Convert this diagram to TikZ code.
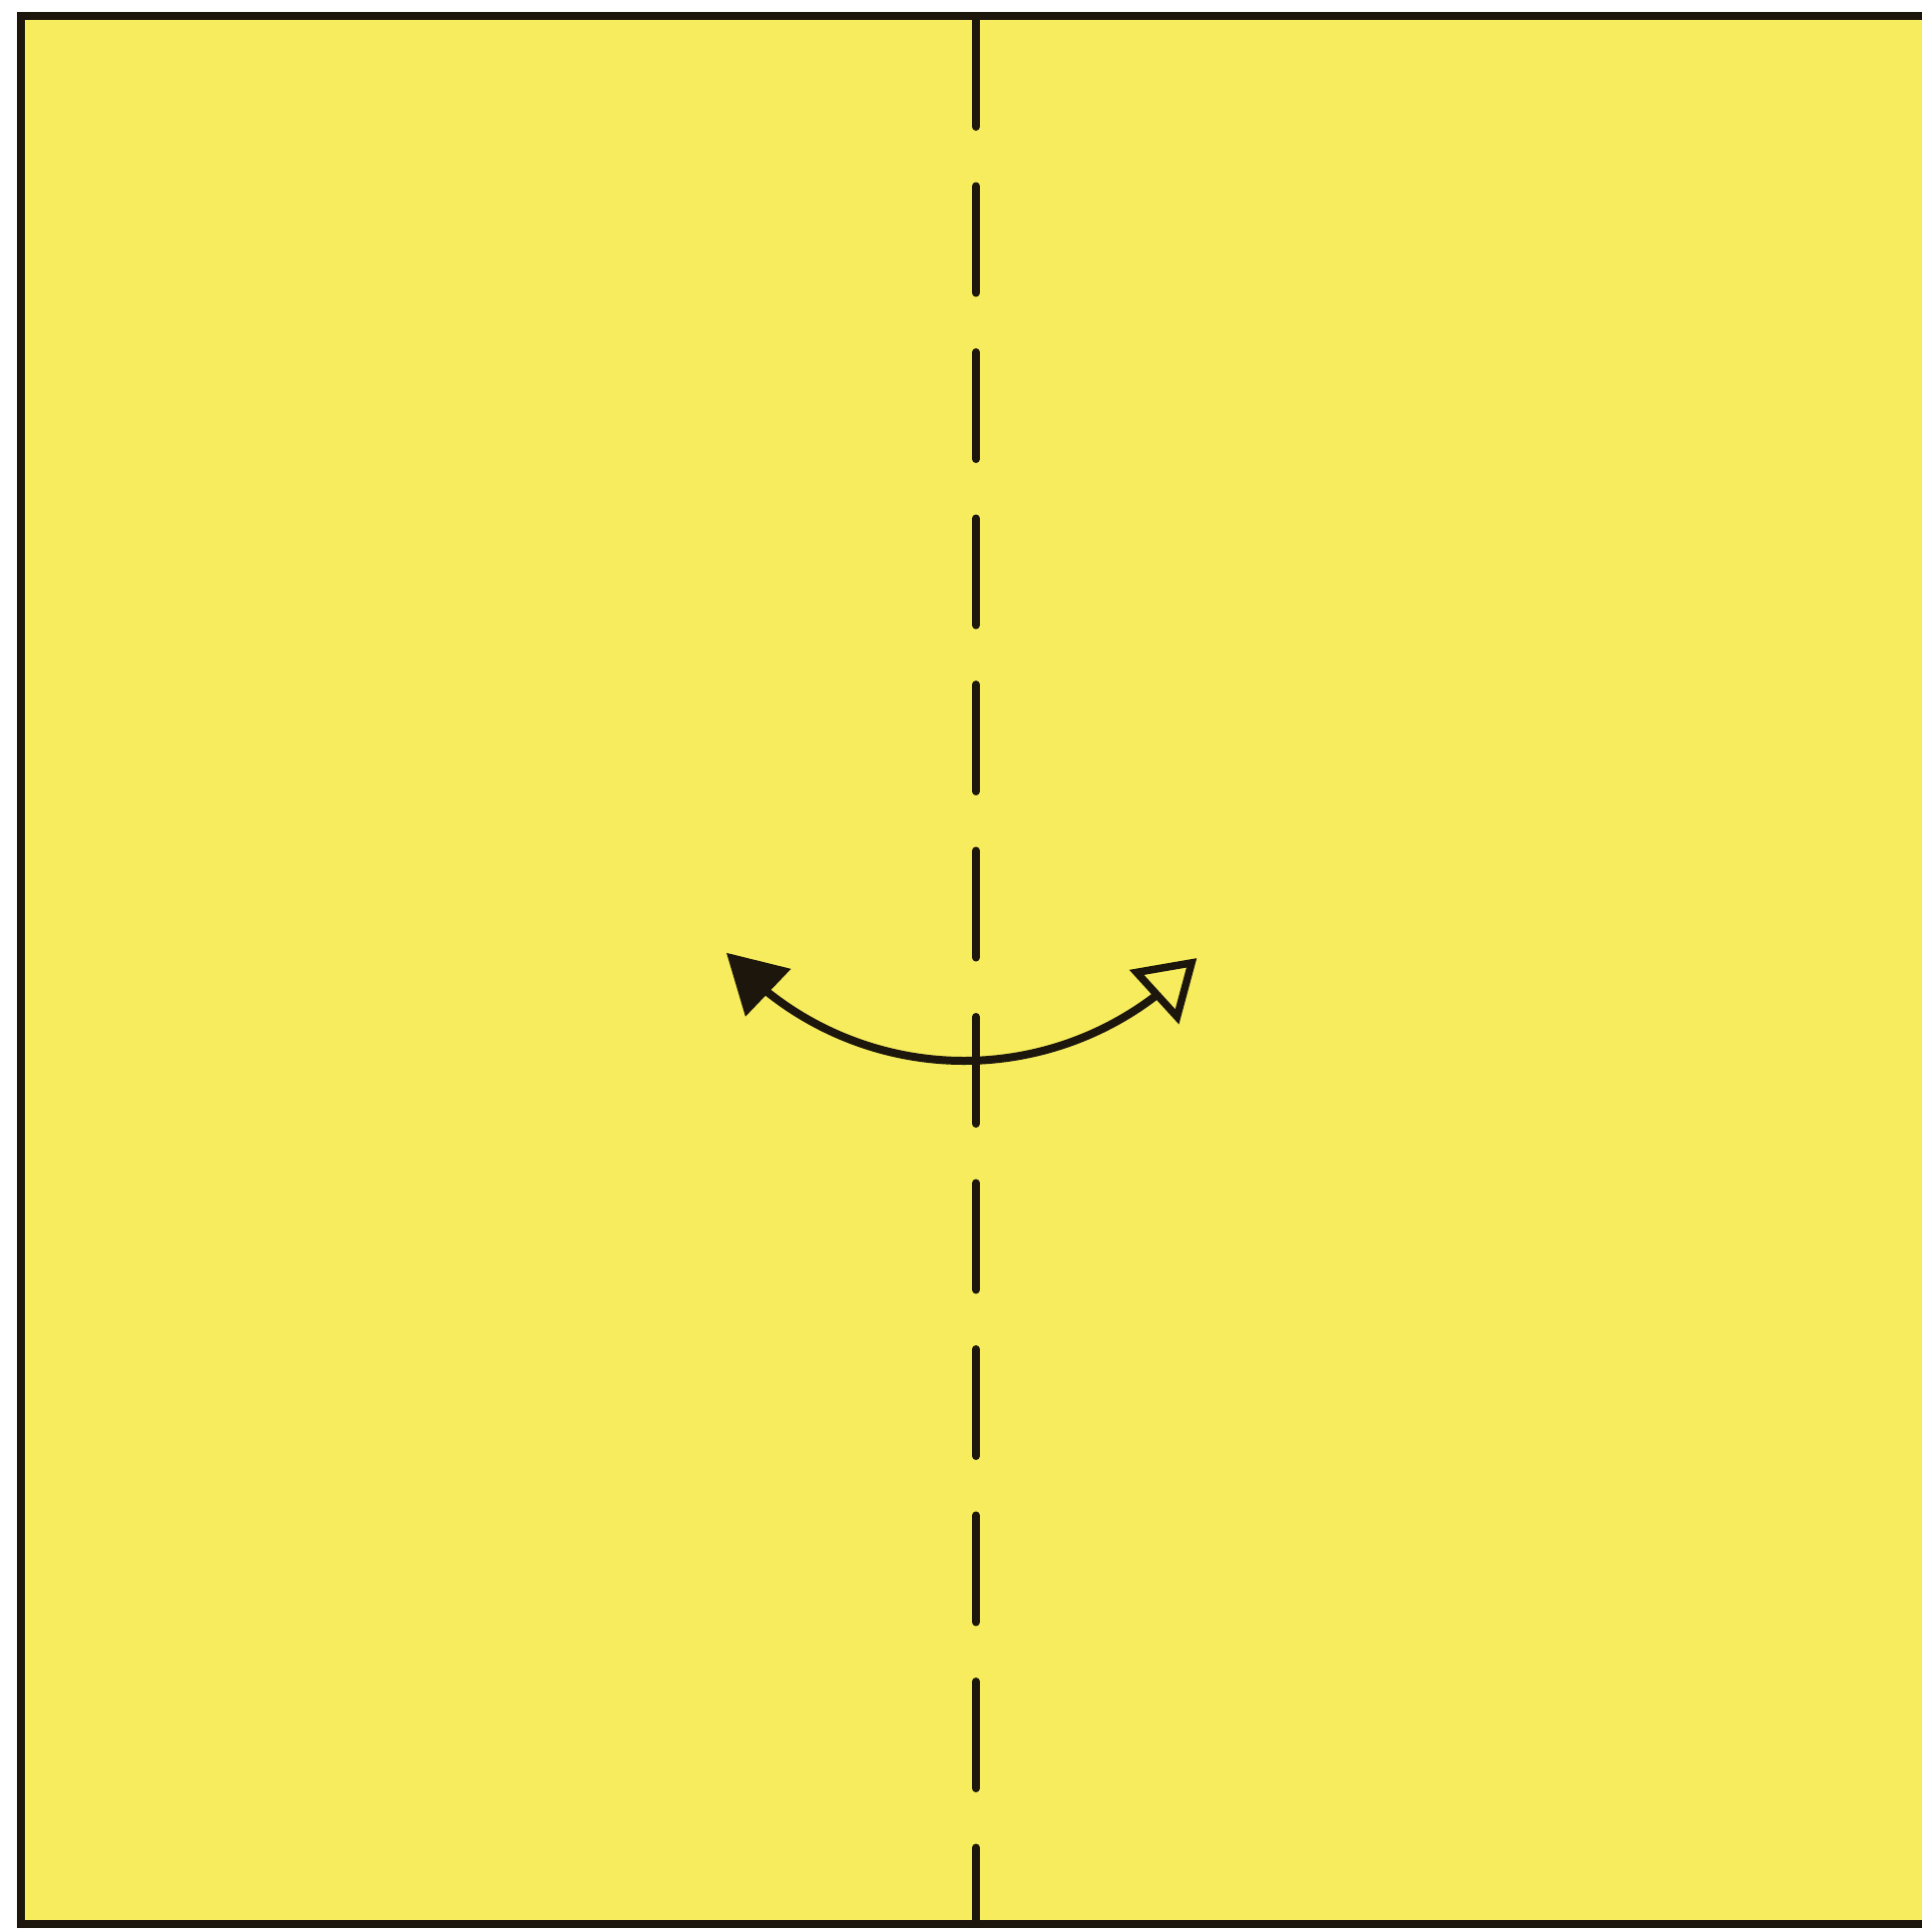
\documentclass[tikz,border=0pt]{standalone}
\usetikzlibrary{arrows.meta,bending}
\definecolor{paper}{RGB}{246,236,94}
\definecolor{ink}{RGB}{28,22,12}
\tikzset{
  edgeline/.style={draw=ink,line width=0.085cm},
  creaseline/.style={draw=ink,line width=0.08cm,line cap=round,dash pattern=on 1.07cm off 0.595cm},
  foldarrow/.style={draw=ink,line width=0.08cm,
    {Triangle[length=0.58cm,width=0.64cm,flex]}-{Triangle[open,length=0.58cm,width=0.72cm,line width=0.075cm,flex]}}
}
\begin{document}
\begin{tikzpicture}
\useasboundingbox (0,0) rectangle (19.26,-19.36);
\fill[white] (0,0) rectangle (19.26,-19.36);
\begin{scope}
\clip (0,0) rectangle (19.26,-19.36);
\coordinate (tl) at (0.21,-0.16);
\coordinate (br) at (19.40,-19.28);
\fill[paper] (tl) rectangle (br);
\coordinate (ctop) at (9.78,-0.16);
\coordinate (cbot) at (9.78,-19.28);
\draw[creaseline] ([yshift=-0.04cm]ctop) -- (cbot);
\draw[edgeline] (tl) rectangle (br);
\end{scope}
\coordinate (arcc) at (9.66,-7.47);
\draw[foldarrow] (arcc) ++(221.1:3.16) coordinate (tipL) arc[start angle=221.1,end angle=317.6,radius=3.16] coordinate (tipR);
\end{tikzpicture}
\end{document}
